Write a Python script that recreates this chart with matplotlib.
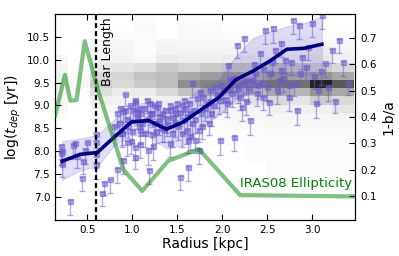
import numpy as np
import matplotlib
matplotlib.use('Agg')
import matplotlib.pyplot as plt

# background 2d histogram (grey level x100), rows from y=6.5 upward in 0.18 dex steps
x_edges = [0.04, 0.285, 0.53, 0.775, 1.02, 1.265, 1.51, 1.755, 2.0, 2.245, 2.49, 2.735, 2.98, 3.225, 3.47]
y_edges = [6.5 + 0.18 * i for i in range(26)]
hist = [
    [0, 0, 0, 0, 0, 0, 0, 0, 0, 0, 0, 0, 0, 0],
    [0, 0, 0, 0, 0, 0, 0, 0, 0, 0, 0, 0, 0, 0],
    [0, 0, 0, 0, 0, 0, 0, 0, 0, 0, 0, 0, 0, 0],
    [0, 0, 0, 0, 0, 0, 0, 0, 0, 0, 0, 0, 0, 0],
    [0, 0, 0, 0, 0, 0, 0, 0, 0, 0, 0, 0, 3, 3],
    [0, 0, 0, 0, 0, 0, 0, 0, 0, 0, 3, 3, 3, 3],
    [0, 0, 0, 0, 0, 0, 0, 0, 0, 0, 3, 3, 3, 3],
    [0, 0, 0, 0, 0, 0, 0, 0, 0, 2, 3, 3, 3, 2],
    [0, 0, 0, 0, 0, 0, 0, 0, 0, 3, 3, 3, 3, 3],
    [0, 0, 0, 0, 0, 0, 0, 2, 3, 3, 3, 3, 3, 3],
    [0, 0, 0, 0, 0, 0, 2, 3, 3, 3, 4, 4, 4, 4],
    [0, 0, 0, 0, 0, 2, 3, 3, 4, 4, 5, 5, 5, 5],
    [3, 0, 3, 3, 3, 3, 3, 5, 5, 5, 6, 6, 6, 8],
    [5, 0, 5, 5, 5, 5, 6, 8, 8, 8, 10, 10, 10, 15],
    [6, 0, 10, 8, 8, 10, 12, 12, 14, 15, 20, 15, 25, 20],
    [8, 3, 18, 12, 12, 20, 28, 32, 30, 30, 35, 32, 40, 35],
    [10, 5, 25, 20, 25, 30, 42, 45, 45, 45, 50, 50, 70, 58],
    [10, 3, 20, 22, 28, 30, 35, 38, 40, 35, 42, 38, 40, 35],
    [8, 0, 14, 14, 18, 25, 22, 25, 28, 28, 30, 28, 25, 20],
    [5, 0, 8, 8, 5, 12, 10, 10, 12, 12, 12, 12, 14, 10],
    [0, 0, 8, 7, 3, 8, 8, 8, 8, 8, 8, 9, 12, 8],
    [0, 0, 5, 5, 3, 6, 5, 5, 5, 5, 5, 5, 6, 5],
    [0, 0, 0, 3, 3, 0, 4, 4, 3, 3, 3, 3, 3, 3],
    [0, 0, 0, 0, 4, 0, 4, 3, 0, 0, 0, 3, 0, 0],
    [0, 0, 0, 0, 3, 0, 3, 0, 0, 0, 0, 0, 0, 0],
]

# individual regions: radius, log(t_dep), lower error
pt_r = [0.21, 0.21, 0.22, 0.22, 0.31, 0.34, 0.36, 0.38, 0.44, 0.45, 0.49, 0.47,
        0.60, 0.60, 0.60, 0.60, 0.66, 0.68, 0.75, 0.83, 0.88,
        0.83, 0.85, 0.88, 0.92, 0.94, 0.90, 1.01, 1.03, 1.05, 1.03, 1.03, 1.09,
        1.11, 1.09, 1.18, 1.19, 1.20, 1.22, 1.25, 1.27, 1.33, 1.33, 1.38, 1.42,
        1.44, 1.48, 1.48, 1.53, 1.55, 1.57, 1.61, 1.62, 1.62, 1.64, 1.66, 1.66,
        1.70, 1.72, 1.74, 1.74, 1.75, 1.77, 1.79, 1.83, 1.85, 1.87, 1.88, 1.92,
        1.96, 1.98, 2.01, 2.05, 2.07, 2.09, 2.11, 2.13, 2.16, 2.16, 2.20, 2.22,
        2.24, 2.27, 2.29, 2.31, 2.37, 2.39, 2.42, 2.44, 2.46, 2.48, 2.52, 2.53,
        2.57, 2.59, 2.61, 2.66, 2.66, 2.70, 2.74, 2.74, 2.79, 2.83, 2.85, 2.89,
        2.96, 3.00, 3.05, 3.07, 3.11, 3.15, 3.22, 3.30,
        0.90, 0.94, 1.03, 1.05, 1.09, 1.16, 1.20, 1.22, 1.29, 1.31, 1.35, 1.42,
        1.42, 1.48, 1.51, 1.57, 1.61, 1.64, 0.98, 1.09, 0.92, 1.23,
        0.80, 0.86, 0.95, 0.97, 1.00, 1.07, 1.13, 1.14, 1.17, 1.24, 1.26, 1.30,
        1.36, 1.39, 1.45, 1.50, 1.53, 1.55, 1.59, 1.63, 1.68, 1.70, 1.78, 1.81,
        1.86, 1.90, 1.94, 1.99, 2.03, 2.08, 2.12, 2.18, 2.23, 2.26, 2.33, 2.35,
        2.40, 2.45, 2.50, 2.55, 2.63, 2.68, 2.77, 2.80, 2.87, 2.93, 3.02, 3.10,
        3.18, 3.26, 3.35, 3.40]
pt_t = [8.12, 7.95, 7.71, 8.00, 6.90, 8.13, 8.18, 7.89, 7.42, 7.78, 8.19, 8.02,
        8.37, 8.21, 7.93, 7.71, 7.09, 7.31, 7.38, 7.60, 8.40,
        8.83, 8.61, 8.39, 8.90, 8.21, 7.80, 8.90, 9.08, 8.75, 8.10, 7.88, 8.83,
        8.61, 8.46, 8.02, 7.58, 9.05, 8.83, 8.61, 8.97, 8.83, 8.50, 8.72, 8.90,
        8.39, 8.94, 8.61, 7.44, 9.01, 8.68, 8.46, 8.24, 7.66, 8.83, 8.61, 9.49,
        8.24, 9.16, 8.02, 8.46, 9.30, 8.83, 9.19, 9.05, 8.61, 9.34, 8.83, 9.41,
        9.12, 8.24, 9.34, 9.05, 9.89, 9.56, 9.27, 8.32, 10.33, 9.45, 9.19, 8.97,
        10.47, 9.56, 9.38, 8.68, 9.70, 9.27, 10.14, 9.49, 9.19, 10.65, 9.08, 9.70,
        10.69, 10.22, 9.34, 10.36, 9.78, 10.00, 9.19, 9.45, 10.87, 8.90, 10.76, 10.07,
        10.29, 10.80, 9.05, 9.34, 10.98, 9.92, 10.22, 10.44,
        8.88, 8.70, 9.13, 8.88, 8.62, 9.13, 8.84, 8.37, 9.06, 8.77, 8.48, 9.02,
        8.18, 8.84, 8.55, 9.13, 8.77, 8.33, 8.22, 8.15, 9.24, 8.11,
        8.55, 8.95, 8.55, 9.00, 8.45, 8.95, 8.95, 8.40, 8.70, 9.00, 8.45, 8.65,
        8.90, 8.60, 8.75, 9.05, 8.85, 8.40, 8.95, 9.05, 8.90, 8.70, 8.55, 8.95,
        9.10, 9.00, 9.25, 9.45, 9.15, 9.35, 9.60, 9.35, 9.50, 9.10, 9.55, 9.90,
        9.45, 9.80, 9.40, 9.95, 9.55, 9.60, 9.95, 9.50, 9.70, 9.85, 9.65, 9.75,
        9.40, 9.10, 9.95, 9.50]
pt_err = [0.30, 0.25, 0.28, 0.30, 0.29, 0.30, 0.28, 0.25, 0.30, 0.28, 0.26, 0.30,
          0.30, 0.28, 0.30, 0.32, 0.30, 0.28, 0.30, 0.30, 0.26,
          0.30, 0.28, 0.30, 0.26, 0.32, 0.30, 0.28, 0.30, 0.26, 0.30, 0.28, 0.30,
          0.26, 0.30, 0.32, 0.30, 0.28, 0.30, 0.26, 0.30, 0.28, 0.30, 0.32, 0.28,
          0.30, 0.26, 0.30, 0.30, 0.28, 0.30, 0.30, 0.28, 0.32, 0.26, 0.30, 0.30,
          0.28, 0.30, 0.30, 0.26, 0.30, 0.28, 0.30, 0.30, 0.26, 0.30, 0.28, 0.30,
          0.30, 0.32, 0.28, 0.30, 0.30, 0.26, 0.30, 0.32, 0.30, 0.28, 0.30, 0.30,
          0.30, 0.28, 0.30, 0.32, 0.30, 0.28, 0.30, 0.30, 0.30, 0.30, 0.30, 0.28,
          0.32, 0.30, 0.30, 0.30, 0.28, 0.30, 0.32, 0.30, 0.30, 0.32, 0.30, 0.28,
          0.30, 0.30, 0.32, 0.30, 0.30, 0.30, 0.30, 0.30,
          0.28, 0.30, 0.26, 0.30, 0.28, 0.30, 0.26, 0.30, 0.28, 0.30, 0.28, 0.30,
          0.30, 0.26, 0.30, 0.28, 0.30, 0.30, 0.28, 0.30, 0.26, 0.30,
          0.28, 0.30, 0.26, 0.30, 0.28, 0.30, 0.26, 0.30, 0.28, 0.30, 0.28, 0.30,
          0.30, 0.26, 0.30, 0.28, 0.30, 0.30, 0.28, 0.30, 0.26, 0.30, 0.28, 0.30,
          0.30, 0.26, 0.30, 0.28, 0.30, 0.30, 0.28, 0.30, 0.26, 0.30, 0.28, 0.30,
          0.30, 0.26, 0.30, 0.28, 0.30, 0.30, 0.28, 0.30, 0.26, 0.30, 0.28, 0.30,
          0.30, 0.26, 0.30, 0.28]

# running median and scatter
med_r = [0.22, 0.42, 0.61, 0.80, 0.99, 1.18, 1.38, 1.57, 1.76, 1.96, 2.15, 2.34, 2.53, 2.72, 2.91, 3.11]
med_t = [7.78, 7.93, 7.97, 8.31, 8.64, 8.67, 8.48, 8.64, 8.90, 9.17, 9.56, 9.75, 9.97, 10.23, 10.25, 10.34]
band_hi = [8.22, 8.28, 8.35, 8.70, 9.01, 9.08, 8.94, 9.05, 9.38, 9.56, 10.07, 10.47, 10.62, 10.73, 10.80, 10.95]
band_lo = [7.37, 7.58, 7.66, 8.13, 8.35, 8.32, 8.06, 8.13, 8.50, 8.79, 9.12, 9.30, 9.74, 9.67, 9.63, 9.81]

# IRAS08 ellipticity profile
ell_r = [0.14, 0.25, 0.31, 0.38, 0.47, 0.62, 0.90, 1.11, 1.40, 1.74, 2.20, 3.48]
ell_v = [0.404, 0.559, 0.461, 0.464, 0.687, 0.50, 0.20, 0.119, 0.233, 0.278, 0.103, 0.098]

bar_length = 0.6

fig = plt.figure(figsize=(3.99, 2.56), dpi=100)
ax = fig.add_axes([0.138, 0.142, 0.752, 0.803])

ax.pcolormesh(x_edges, y_edges, np.array(hist) / 80.0, cmap='Greys', vmin=0, vmax=1, zorder=0)

lo = np.array(pt_err)
ax.errorbar(pt_r, pt_t, yerr=[lo, np.full(len(lo), 0.02)], fmt='s', color='#6a5acd',
            ms=3.6, alpha=0.5, capsize=2.2, elinewidth=1, capthick=1, zorder=2)

ax.fill_between(med_r, band_lo, band_hi, color='#6a5acd', alpha=0.2, lw=0.8, zorder=3)
ax.plot(med_r, med_t, color='navy', lw=2.6, zorder=4)

ax.axvline(bar_length, color='k', ls=(0, (2.2, 1.4)), lw=1.6, zorder=5)
ax.text(0.65, 9.42, 'Bar Length', rotation=90, va='bottom', ha='left', fontsize=9)

ax.set_xlim(0.14, 3.48)
ax.set_ylim(6.5, 11.0)
ax.set_xticks([0.5, 1.0, 1.5, 2.0, 2.5, 3.0])
ax.set_yticks([7.0, 7.5, 8.0, 8.5, 9.0, 9.5, 10.0, 10.5])
ax.tick_params(direction='in', top=True, right=False, labelsize=7.5, length=4)
ax.set_xlabel('Radius [kpc]', fontsize=10, labelpad=2)
ax.set_ylabel(r'log($t_{dep}$ [yr])', fontsize=10, labelpad=3)

ax2 = ax.twinx()
ax2.plot(ell_r, ell_v, color='green', alpha=0.5, lw=3, zorder=6)
ax2.set_ylim(0.01, 0.79)
ax2.set_yticks([0.1, 0.2, 0.3, 0.4, 0.5, 0.6, 0.7])
ax2.tick_params(direction='in', labelsize=7.5, length=4)
ax2.set_ylabel('1-b/a', fontsize=10, labelpad=3)
ax.text(2.2, 7.29, 'IRAS08 Ellipticity', color='green', fontsize=9.5, va='center', ha='left', zorder=7)

fig.savefig('out.png', dpi=100)
